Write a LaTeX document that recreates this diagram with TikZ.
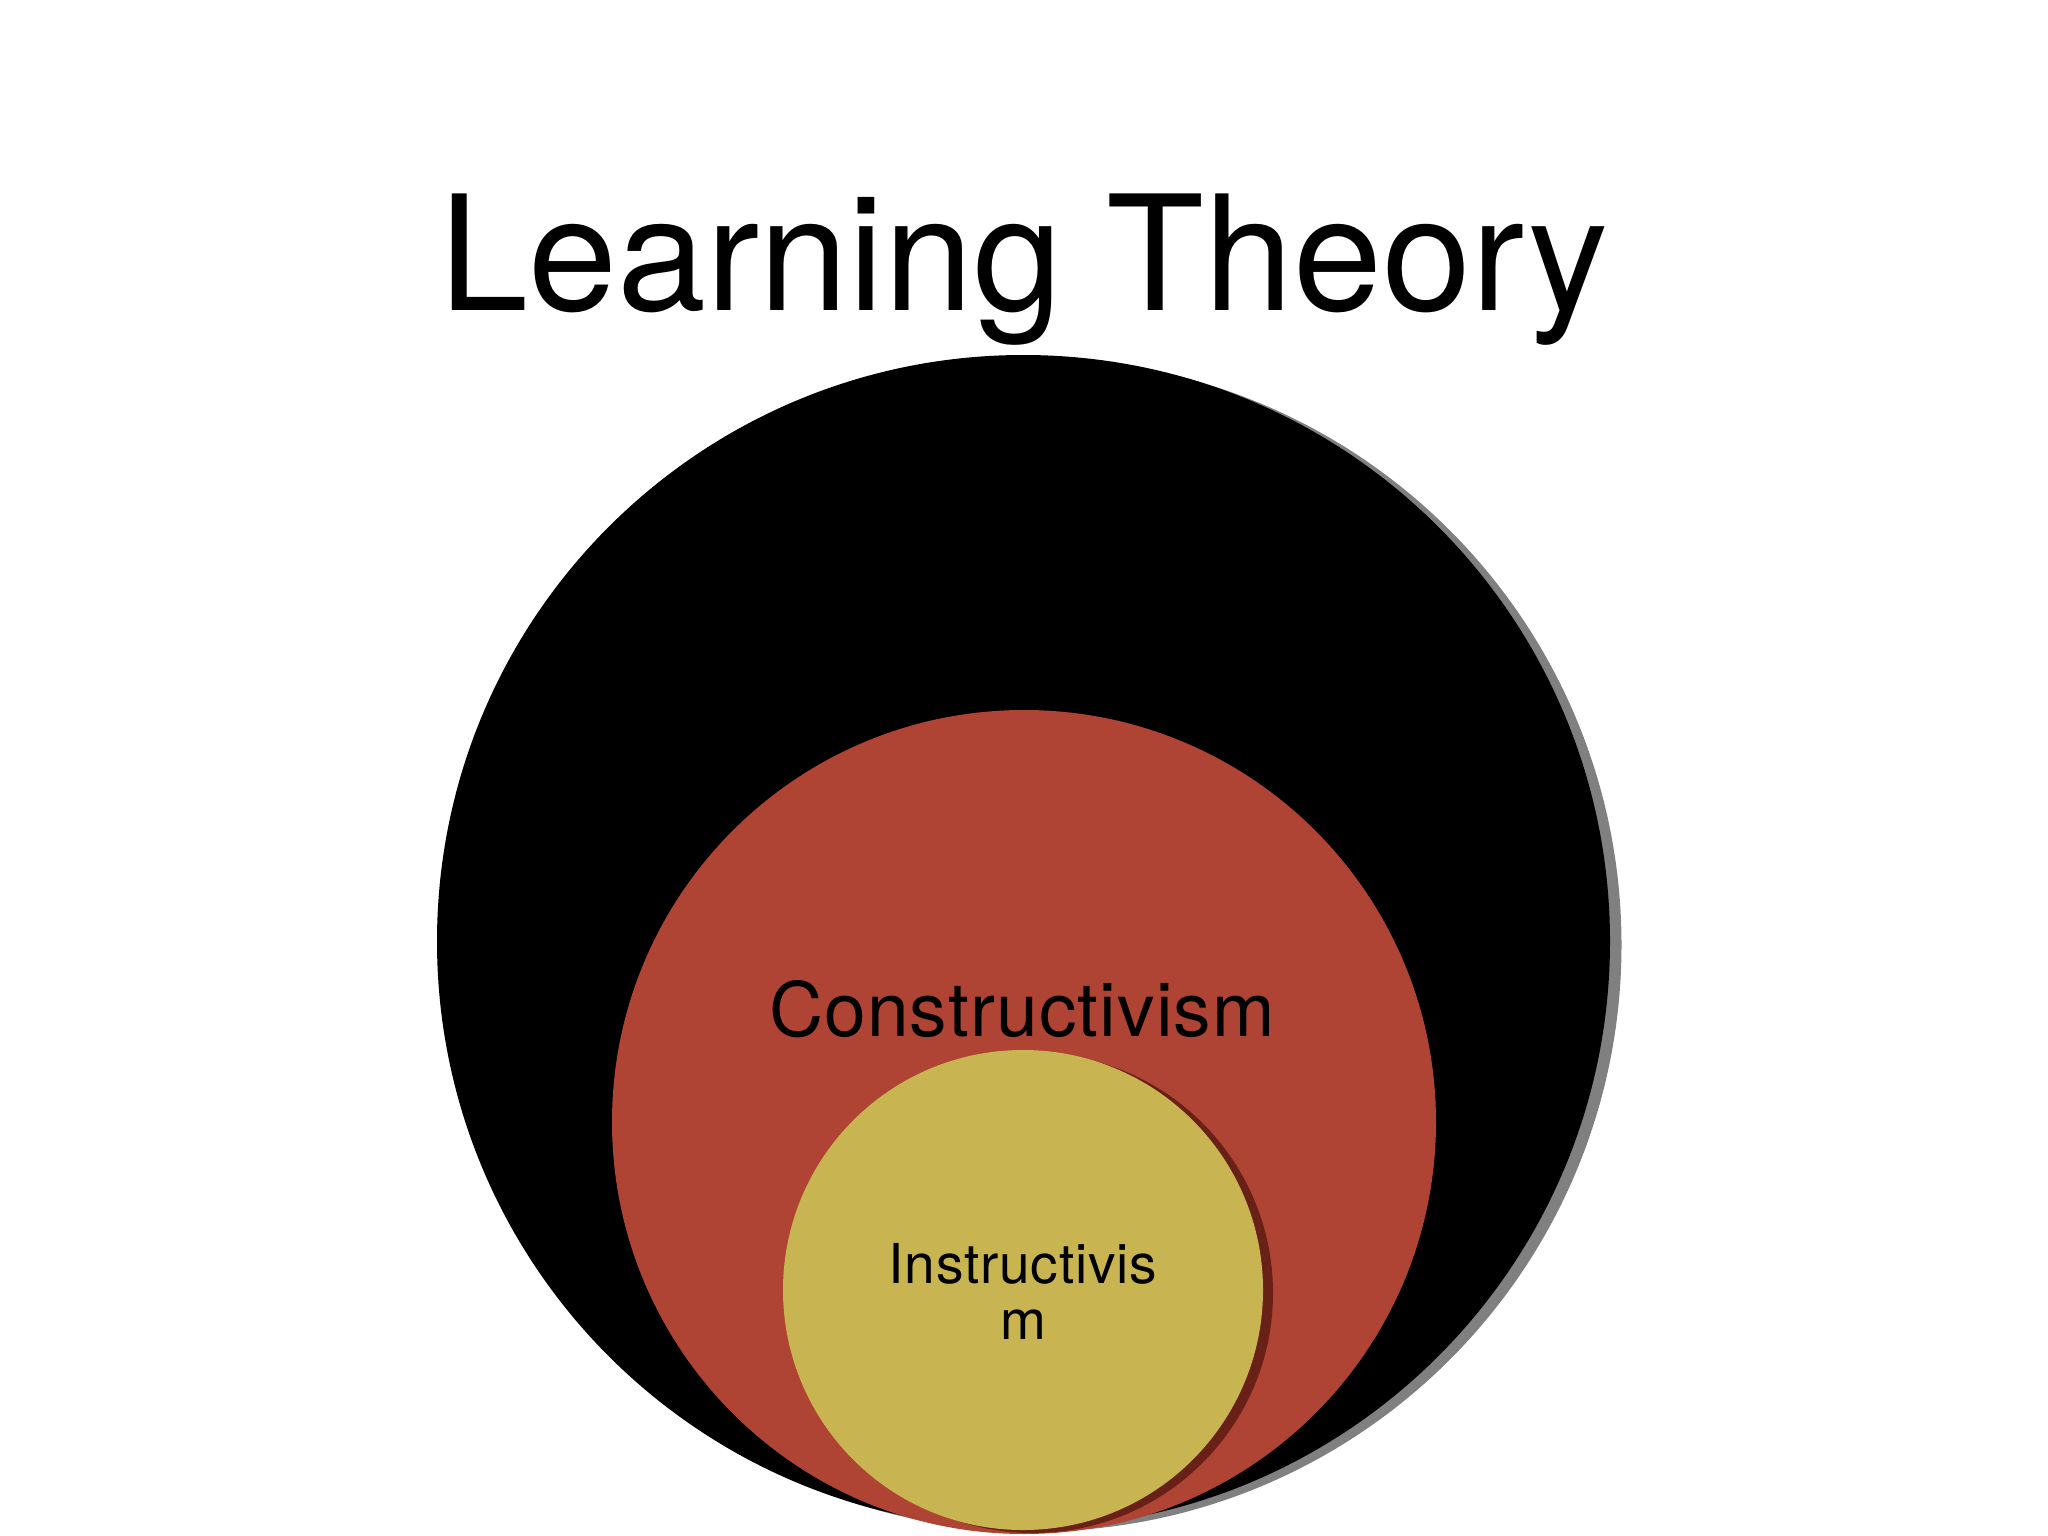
\documentclass[tikz,border=0pt]{standalone}
\usepackage{fontspec}
\setmainfont{TeX Gyre Heros}
\newfontfamily\trackfont{TeX Gyre Heros}[LetterSpace=1.5]
\definecolor{paperred}{RGB}{176,68,52}
\definecolor{paperyellow}{RGB}{200,181,82}
\definecolor{redshadow}{RGB}{105,32,22}
\definecolor{greyshadow}{RGB}{128,128,128}
\tikzset{
  disc/.style={circle, inner sep=0pt, outer sep=0pt, draw=none},
  lbl/.style={inner sep=0pt, anchor=base, text=black}
}
\begin{document}
\begin{tikzpicture}[x=1pt,y=-1pt]
\fill[white] (0,0) rectangle (2048,1536);
\useasboundingbox (0,0) rectangle (2048,1536);
% title
\node[lbl, font=\fontsize{160}{192}\selectfont] (title) at (1024,310) {Learning Theory};
% outer black disc with grey shadow
\node[disc, fill=greyshadow, minimum size=1173pt] (theoryshadow) at (1035,945) {};
\node[disc, fill=black, minimum size=1173pt] (theory) at (1023.5,941.5) {};
% red disc
\node[disc, fill=paperred, minimum size=824pt] (constr) at (1024,1122) {};
% yellow disc with dark shadow
\node[disc, fill=redshadow, minimum size=480pt] (instrshadow) at (1033,1293) {};
\node[disc, fill=paperyellow, minimum size=480pt] (instr) at (1023,1290) {};
% labels
\node[lbl, font=\trackfont\fontsize{75}{90}\selectfont] (constrlbl) at (1022,1036) {Constructivism};
\node[lbl, font=\trackfont\fontsize{55}{66}\selectfont] (instrlbla) at (1023,1283) {Instructivis};
\node[lbl, font=\trackfont\fontsize{55}{66}\selectfont] (instrlblb) at (1023,1339) {m};
\end{tikzpicture}
\end{document}
